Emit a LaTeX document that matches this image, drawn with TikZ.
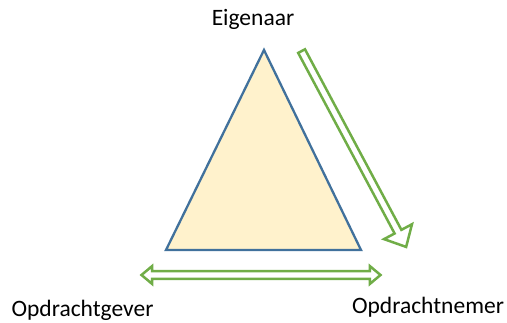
\documentclass[tikz,border=0pt]{standalone}
\usepackage{fontspec}
\setmainfont{Carlito}
\usetikzlibrary{shapes.arrows}
\definecolor{lineblue}{RGB}{65,113,156}
\definecolor{fillcream}{RGB}{255,242,204}
\definecolor{arrowgreen}{RGB}{112,173,71}

\begin{document}
\begin{tikzpicture}[x=1pt,y=1pt,label node/.style={anchor=base,inner sep=0pt,font=\fontsize{23.5}{28}\selectfont},block arrow/.style={draw=arrowgreen,fill=white,line width=2.5pt,inner xsep=0pt,inner ysep=2.6pt}]
  \useasboundingbox (0,0) rectangle (507,322);

  \coordinate (1) at (264,272);
  \coordinate (2) at (166,72);
  \coordinate (3) at (361,72);
  \draw[lineblue,fill=fillcream,line width=2.3pt,line join=miter] (1) -- (2) -- (3) -- cycle;

  \node[label node] (4) at (253,296.3) {Eigenaar};
  \node[label node] (5) at (82.5,5.3) {Opdrachtgever};
  \node[label node] (6) at (428,8.7) {Opdrachtnemer};

  \node[block arrow,single arrow,anchor=tail,rotate=-61.9,minimum height=222pt,single arrow head extend=12pt,single arrow tip angle=85] (7) at (301,272) {};
  \node[block arrow,double arrow,minimum height=239pt,double arrow head extend=5pt,double arrow tip angle=80] (8) at (261,47) {};
\end{tikzpicture}
\end{document}
